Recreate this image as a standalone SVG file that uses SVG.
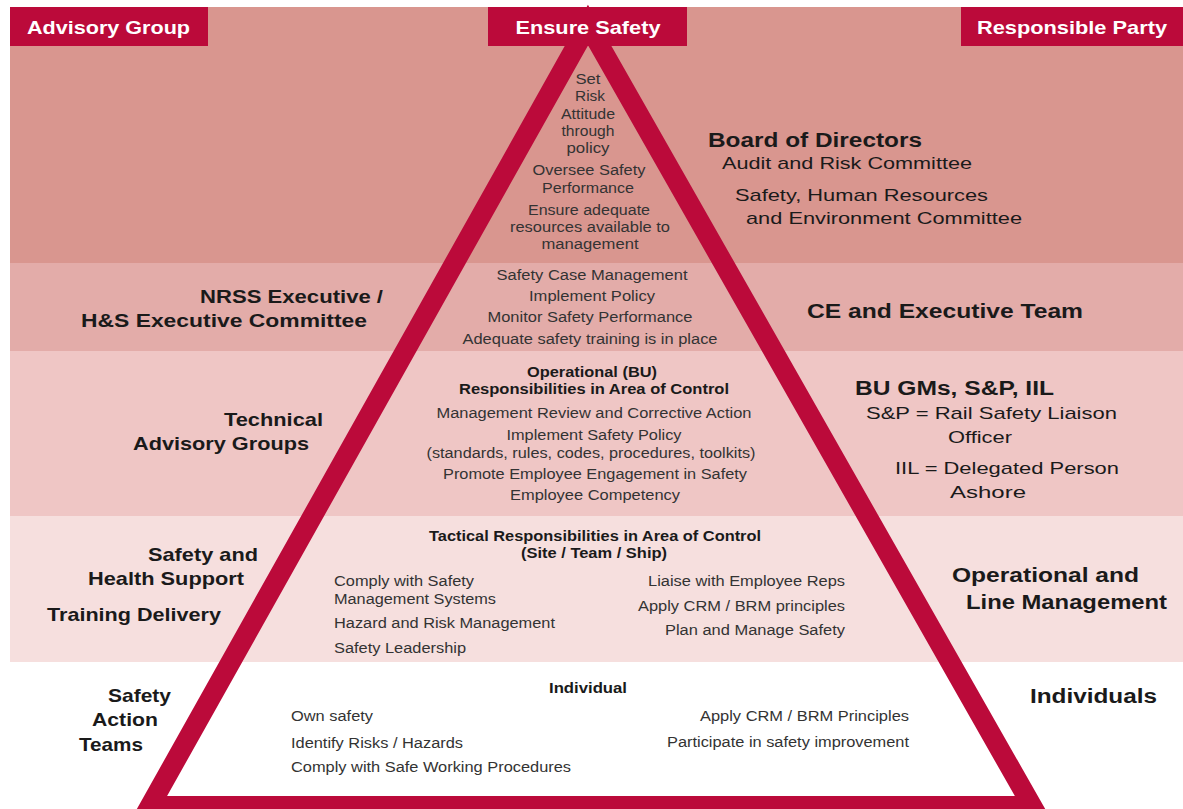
<svg xmlns="http://www.w3.org/2000/svg" width="1183" height="809" viewBox="0 0 1183 809">
<style>
.hdr{font-family:"Liberation Sans",Arial,sans-serif;font-weight:bold;font-size:19px;fill:#ffffff}
.lbl{font-family:"Liberation Sans",Arial,sans-serif;font-weight:bold;font-size:19px;fill:#1a1a1a}
.big{font-family:"Liberation Sans",Arial,sans-serif;font-weight:bold;font-size:20px;fill:#1a1a1a}
.sub{font-family:"Liberation Sans",Arial,sans-serif;font-size:17px;fill:#1a1a1a}
.sm{font-family:"Liberation Sans",Arial,sans-serif;font-size:14px;fill:#333333}
.smb{font-family:"Liberation Sans",Arial,sans-serif;font-weight:bold;font-size:14px;fill:#1a1a1a}
.c{text-anchor:middle}
.hbox{fill:#bb0a3a}
</style>
<rect x="0" y="0" width="1183" height="809" fill="#ffffff"/>
<g id="bands">
<rect x="10" y="7" width="1173" height="256" fill="#d9968f"/>
<rect x="10" y="263" width="1173" height="88" fill="#e3aca9"/>
<rect x="10" y="351" width="1173" height="165" fill="#efc6c5"/>
<rect x="10" y="516" width="1173" height="146" fill="#f6dfde"/>
</g>
<g id="connectors">
<path d="M588 25 L150 806 L1032 806 Z" fill="none" stroke="#bb0a3a" stroke-width="20" stroke-linejoin="miter" stroke-miterlimit="10"/>
</g>
<g id="header-advisory">
<rect class="hbox" x="10" y="7" width="198" height="39"/>
<text class="hdr" x="27" y="34" textLength="163" lengthAdjust="spacingAndGlyphs">Advisory Group</text>
</g>
<g id="header-ensure">
<rect class="hbox" x="488" y="7" width="199" height="39"/>
<text class="hdr c" x="588" y="34" textLength="145" lengthAdjust="spacingAndGlyphs">Ensure Safety</text>
</g>
<g id="header-responsible">
<rect class="hbox" x="961" y="7" width="222" height="39"/>
<text class="hdr" x="977" y="34" textLength="190" lengthAdjust="spacingAndGlyphs">Responsible Party</text>
</g>
<g id="level1-center">
<text class="sm c" x="588" y="84" textLength="25" lengthAdjust="spacingAndGlyphs">Set</text>
<text class="sm c" x="590" y="101" textLength="30" lengthAdjust="spacingAndGlyphs">Risk</text>
<text class="sm c" x="588" y="119" textLength="54" lengthAdjust="spacingAndGlyphs">Attitude</text>
<text class="sm c" x="588" y="136" textLength="53" lengthAdjust="spacingAndGlyphs">through</text>
<text class="sm c" x="588" y="153" textLength="43" lengthAdjust="spacingAndGlyphs">policy</text>
<text class="sm c" x="589" y="175" textLength="113" lengthAdjust="spacingAndGlyphs">Oversee Safety</text>
<text class="sm c" x="588" y="193" textLength="92" lengthAdjust="spacingAndGlyphs">Performance</text>
<text class="sm c" x="589" y="215" textLength="122" lengthAdjust="spacingAndGlyphs">Ensure adequate</text>
<text class="sm c" x="590" y="232" textLength="160" lengthAdjust="spacingAndGlyphs">resources available to</text>
<text class="sm c" x="590" y="249" textLength="97" lengthAdjust="spacingAndGlyphs">management</text>
</g>
<g id="level1-party">
<text class="big" x="708" y="147" textLength="214" lengthAdjust="spacingAndGlyphs">Board of Directors</text>
<text class="sub" x="722" y="169" textLength="250" lengthAdjust="spacingAndGlyphs">Audit and Risk Committee</text>
<text class="sub" x="735" y="201" textLength="253" lengthAdjust="spacingAndGlyphs">Safety, Human Resources</text>
<text class="sub" x="746" y="224" textLength="276" lengthAdjust="spacingAndGlyphs">and Environment Committee</text>
</g>
<g id="level2-advisory">
<text class="lbl" x="200" y="303" textLength="183" lengthAdjust="spacingAndGlyphs">NRSS Executive /</text>
<text class="lbl" x="81" y="327" textLength="286" lengthAdjust="spacingAndGlyphs">H&amp;S Executive Committee</text>
</g>
<g id="level2-center">
<text class="sm c" x="592" y="280" textLength="191" lengthAdjust="spacingAndGlyphs">Safety Case Management</text>
<text class="sm c" x="592" y="301" textLength="126" lengthAdjust="spacingAndGlyphs">Implement Policy</text>
<text class="sm c" x="590" y="322" textLength="205" lengthAdjust="spacingAndGlyphs">Monitor Safety Performance</text>
<text class="sm c" x="590" y="344" textLength="255" lengthAdjust="spacingAndGlyphs">Adequate safety training is in place</text>
</g>
<g id="level2-party">
<text class="big" x="807" y="318" textLength="276" lengthAdjust="spacingAndGlyphs">CE and Executive Team</text>
</g>
<g id="level3-advisory">
<text class="lbl" x="224" y="426" textLength="99" lengthAdjust="spacingAndGlyphs">Technical</text>
<text class="lbl" x="133" y="450" textLength="176" lengthAdjust="spacingAndGlyphs">Advisory Groups</text>
</g>
<g id="level3-center">
<text class="smb c" x="592" y="377" textLength="130" lengthAdjust="spacingAndGlyphs">Operational (BU)</text>
<text class="smb c" x="594" y="394" textLength="270" lengthAdjust="spacingAndGlyphs">Responsibilities in Area of Control</text>
<text class="sm c" x="594" y="418" textLength="315" lengthAdjust="spacingAndGlyphs">Management Review and Corrective Action</text>
<text class="sm c" x="594" y="440" textLength="175" lengthAdjust="spacingAndGlyphs">Implement Safety Policy</text>
<text class="sm c" x="591" y="458" textLength="329" lengthAdjust="spacingAndGlyphs">(standards, rules, codes, procedures, toolkits)</text>
<text class="sm c" x="595" y="479" textLength="304" lengthAdjust="spacingAndGlyphs">Promote Employee Engagement in Safety</text>
<text class="sm c" x="595" y="500" textLength="170" lengthAdjust="spacingAndGlyphs">Employee Competency</text>
</g>
<g id="level3-party">
<text class="big" x="855" y="395" textLength="199" lengthAdjust="spacingAndGlyphs">BU GMs, S&amp;P, IIL</text>
<text class="sub" x="866" y="419" textLength="251" lengthAdjust="spacingAndGlyphs">S&amp;P = Rail Safety Liaison</text>
<text class="sub" x="948" y="443" textLength="64" lengthAdjust="spacingAndGlyphs">Officer</text>
<text class="sub" x="895" y="474" textLength="224" lengthAdjust="spacingAndGlyphs">IIL = Delegated Person</text>
<text class="sub" x="950" y="498" textLength="76" lengthAdjust="spacingAndGlyphs">Ashore</text>
</g>
<g id="level4-advisory">
<text class="lbl" x="148" y="561" textLength="110" lengthAdjust="spacingAndGlyphs">Safety and</text>
<text class="lbl" x="88" y="585" textLength="156" lengthAdjust="spacingAndGlyphs">Health Support</text>
<text class="lbl" x="47" y="621" textLength="174" lengthAdjust="spacingAndGlyphs">Training Delivery</text>
</g>
<g id="level4-center">
<text class="smb c" x="595" y="541" textLength="332" lengthAdjust="spacingAndGlyphs">Tactical Responsibilities in Area of Control</text>
<text class="smb c" x="594" y="558" textLength="146" lengthAdjust="spacingAndGlyphs">(Site / Team / Ship)</text>
<text class="sm" x="334" y="586" textLength="140" lengthAdjust="spacingAndGlyphs">Comply with Safety</text>
<text class="sm" x="334" y="604" textLength="162" lengthAdjust="spacingAndGlyphs">Management Systems</text>
<text class="sm" x="334" y="628" textLength="221" lengthAdjust="spacingAndGlyphs">Hazard and Risk Management</text>
<text class="sm" x="334" y="653" textLength="132" lengthAdjust="spacingAndGlyphs">Safety Leadership</text>
<text class="sm" x="648" y="586" textLength="197" lengthAdjust="spacingAndGlyphs">Liaise with Employee Reps</text>
<text class="sm" x="638" y="611" textLength="207" lengthAdjust="spacingAndGlyphs">Apply CRM / BRM principles</text>
<text class="sm" x="665" y="635" textLength="180" lengthAdjust="spacingAndGlyphs">Plan and Manage Safety</text>
</g>
<g id="level4-party">
<text class="big" x="952" y="582" textLength="187" lengthAdjust="spacingAndGlyphs">Operational and</text>
<text class="big" x="966" y="609" textLength="201" lengthAdjust="spacingAndGlyphs">Line Management</text>
</g>
<g id="level5-advisory">
<text class="lbl" x="108" y="702" textLength="63" lengthAdjust="spacingAndGlyphs">Safety</text>
<text class="lbl" x="92" y="726" textLength="66" lengthAdjust="spacingAndGlyphs">Action</text>
<text class="lbl" x="79" y="751" textLength="64" lengthAdjust="spacingAndGlyphs">Teams</text>
</g>
<g id="level5-center">
<text class="smb c" x="588" y="693" textLength="78" lengthAdjust="spacingAndGlyphs">Individual</text>
<text class="sm" x="291" y="721" textLength="82" lengthAdjust="spacingAndGlyphs">Own safety</text>
<text class="sm" x="291" y="748" textLength="172" lengthAdjust="spacingAndGlyphs">Identify Risks / Hazards</text>
<text class="sm" x="291" y="772" textLength="280" lengthAdjust="spacingAndGlyphs">Comply with Safe Working Procedures</text>
<text class="sm" x="700" y="721" textLength="209" lengthAdjust="spacingAndGlyphs">Apply CRM / BRM Principles</text>
<text class="sm" x="667" y="747" textLength="242" lengthAdjust="spacingAndGlyphs">Participate in safety improvement</text>
</g>
<g id="level5-party">
<text class="big" x="1030" y="703" textLength="127" lengthAdjust="spacingAndGlyphs">Individuals</text>
</g>
</svg>
